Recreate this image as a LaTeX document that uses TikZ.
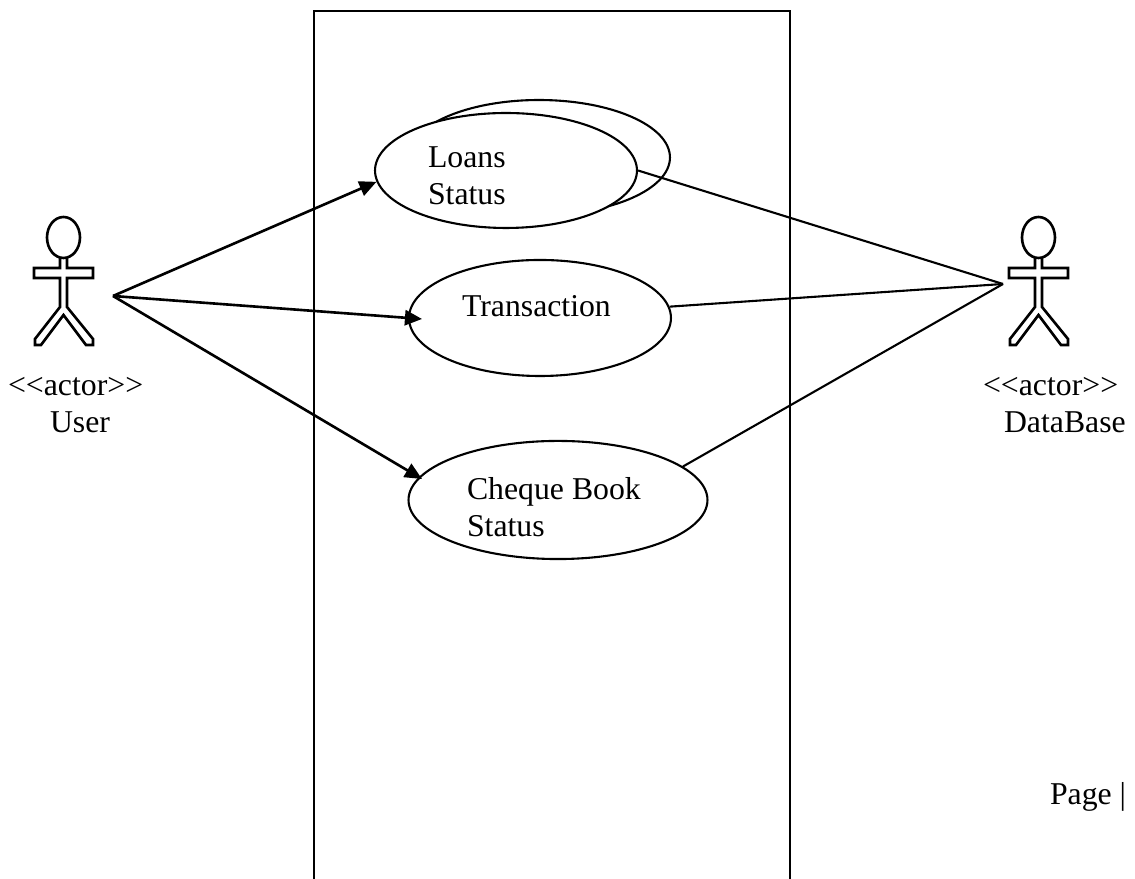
\documentclass[tikz,border=0pt]{standalone}
\usepackage{fontspec}
\setmainfont{Liberation Serif}
\usetikzlibrary{shapes.geometric,arrows.meta}
\tikzset{
	usecase/.style={draw,ellipse,fill=white,inner sep=0pt},
	txtlabel/.style={inner sep=0pt,align=left,anchor=north west,font=\fontsize{12.1pt}{14.1pt}\selectfont},
	assoc/.style={line width=1pt,-{Triangle[length=6.5pt,width=5.8pt]}},
	plainassoc/.style={line width=0.8pt}
}
\newcommand{\stickman}[1]{% actor figure, shifted by #1
	\begin{scope}[xshift=#1*0.381pt,line width=1pt]
		\draw (63.5,237.5) ellipse (16.5 and 20.5);
		\draw (60,258)--(60,268)--(34,268)--(34,278)--(60,278)--(60,307)
			--(35,339)--(35,345)--(41,345)--(63.5,315)--(86,345)--(93,345)--(93,339)
			--(67,307)--(67,278)--(93,278)--(93,268)--(67,268)--(67,258);
	\end{scope}}

\begin{document}
\begin{tikzpicture}[x=0.381pt,y=-0.381pt,line width=0.8pt]
		\useasboundingbox (0,0) rectangle (1135,879);
		\coordinate (BL) at (314,879);%system box
		\coordinate (TL) at (314,11);
		\coordinate (TR) at (790,11);
		\coordinate (BR) at (790,879);
		\coordinate (U) at (113,296);%user hub
		\coordinate (D) at (1003,284);%database hub
		\coordinate (T) at (422,319);%tip inside transaction
		\coordinate (C) at (422,479);%tip inside cheque
		\draw (BL)--(TL)--(TR)--(BR);

		\node [usecase,minimum width=99.8pt,minimum height=43.8pt] (back) at (539,157.5) {};
		\node [usecase,minimum width=99.8pt,minimum height=43.8pt] (loans) at (506,170.5) {};
		\node [usecase,minimum width=99.8pt,minimum height=44.2pt] (trans) at (540,318) {};
		\node [usecase,minimum width=113.9pt,minimum height=45pt] (cheque) at (558,500) {};

		\node [txtlabel] (loanstxt) at (427,146) {Loans\\Status};
		\node [txtlabel] (transtxt) at (461,294) {Transaction};
		\node [txtlabel] (chequetxt) at (466,476) {Cheque Book\\Status};

		\draw [assoc] (U)--(loans.185);
		\draw [assoc] (U)--(T);
		\draw [assoc] (U)--(C);
		\draw [plainassoc] (loans.east)--(D);
		\draw [plainassoc] (trans.5)--(D);
		\draw [plainassoc] (cheque.15)--(D);

		\stickman{0}
		\stickman{975}
		\node [txtlabel] (usertxt) at (7,376) {<{}<actor>{}>\\\hspace*{16pt}User};
		\node [txtlabel] (dbtxt) at (982,376) {<{}<actor>{}>\\\hspace*{8pt}DataBase};
		\node [txtlabel] (pagetxt) at (1049,781) {Page |};
		\end{tikzpicture}
\end{document}
